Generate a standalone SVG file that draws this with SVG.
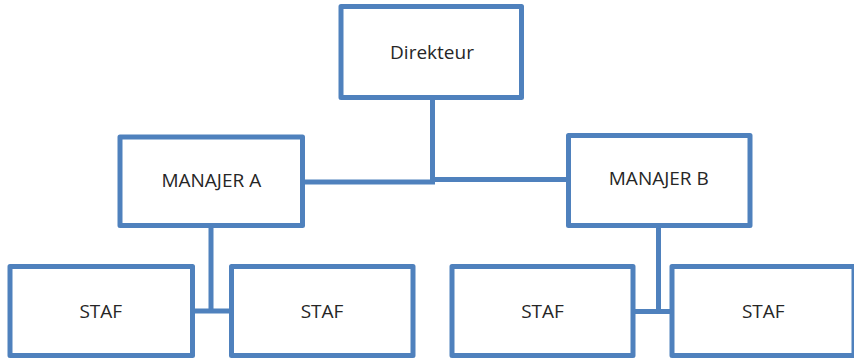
<svg xmlns="http://www.w3.org/2000/svg" width="854" height="358" viewBox="0 0 854 358">
  <style>
    .box { fill: #ffffff; stroke: #4f81bd; stroke-width: 5; stroke-linejoin: round; }
    .wire { fill: none; stroke: #4f81bd; stroke-width: 5; stroke-linejoin: miter; }
    .lbl { font-family: "Open Sans", "Liberation Sans", sans-serif; font-size: 19px; fill: #262626; text-anchor: middle; }
  </style>
  <rect width="854" height="358" fill="#ffffff"/>

  <g id="connectors">
    <path class="wire" d="M432.5 97.5 V182 M302.5 182 H432.5 V179.5 H568.5"/>
    <path class="wire" d="M211 225.5 V311 M192.5 311 H231.5"/>
    <path class="wire" d="M658.5 225.5 V311.5 M633 311.5 H672"/>
  </g>

  <g id="direkteur">
    <rect class="box" x="341" y="6.5" width="180.5" height="91"/>
    <text class="lbl" x="432" y="58.5">Direkteur</text>
  </g>
  <g id="manajer-a">
    <rect class="box" x="120" y="137" width="182.5" height="88.5"/>
    <text class="lbl" x="211.3" y="187.3">MANAJER A</text>
  </g>
  <g id="manajer-b">
    <rect class="box" x="568.5" y="135.5" width="181.5" height="90"/>
    <text class="lbl" x="658.8" y="185">MANAJER B</text>
  </g>
  <g id="staf-a1">
    <rect class="box" x="10" y="266.5" width="182.5" height="89"/>
    <text class="lbl" x="100.8" y="318.3">STAF</text>
  </g>
  <g id="staf-a2">
    <rect class="box" x="231.5" y="266.5" width="181.5" height="89"/>
    <text class="lbl" x="322" y="318.3">STAF</text>
  </g>
  <g id="staf-b1">
    <rect class="box" x="452" y="266.5" width="181" height="89"/>
    <text class="lbl" x="542.5" y="318.3">STAF</text>
  </g>
  <g id="staf-b2">
    <rect class="box" x="672" y="266.5" width="182" height="89"/>
    <text class="lbl" x="763.3" y="318.3">STAF</text>
  </g>
</svg>
